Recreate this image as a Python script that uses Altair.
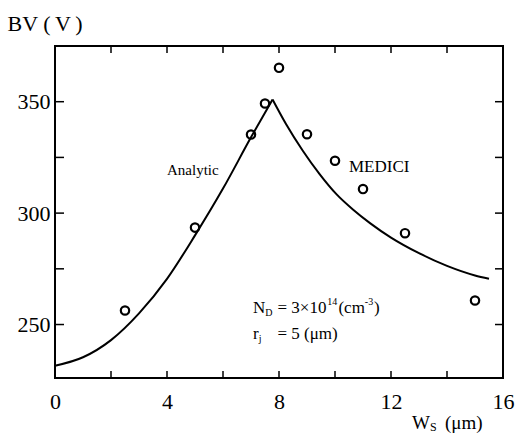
import altair as alt
import pandas as pd

# Analytic breakdown-voltage curve, split at the cusp into two branches
left_ws = [0.0, 1.0, 2.0, 3.0, 4.0, 5.0, 6.0, 7.0, 7.77]
left_bv = [231.5, 235.3, 243.0, 255.0, 270.5, 290.0, 311.0, 334.0, 351.0]
right_ws = [7.77, 8.25, 8.85, 9.45, 10.05, 10.65, 11.25, 12.0, 13.0, 14.0, 15.0, 15.5]
right_bv = [351.0, 340.0, 328.0, 317.5, 308.5, 301.5, 295.5, 289.0, 282.0, 276.3, 272.0, 270.5]

# MEDICI simulation points
medici_ws = [2.5, 5.0, 7.0, 7.5, 8.0, 9.0, 10.0, 11.0, 12.5, 15.0]
medici_bv = [256.3, 293.5, 335.3, 349.2, 365.2, 335.4, 323.5, 310.8, 291.0, 260.8]

x_tick_labels = [0, 4, 8, 12, 16]
x_minor = [2, 4, 6, 8, 10, 12, 14]
y_tick_labels = [250, 300, 350]
y_minor = [250, 275, 300, 325, 350]

W, H = 448, 332
X_DOM = [0, 16]
Y_DOM = [226, 375]
SERIF = "Liberation Serif"

curve = pd.DataFrame(
    {"ws": left_ws + right_ws,
     "bv": left_bv + right_bv,
     "branch": ["rise"] * len(left_ws) + ["fall"] * len(right_ws)}
)
pts = pd.DataFrame({"ws": medici_ws, "bv": medici_bv})

xs = alt.Scale(domain=X_DOM, nice=False, zero=False)
ys = alt.Scale(domain=Y_DOM, nice=False, zero=False)

x_axis = alt.Axis(values=x_tick_labels, title=None, grid=False, ticks=False, domain=False,
                  labelFont=SERIF, labelFontSize=22, labelColor="black",
                  labelBaseline="alphabetic", labelPadding=30, labelFlush=False)
y_axis = alt.Axis(values=y_tick_labels, title="BV (\u2009V\u2009)", grid=False, ticks=False,
                  domain=False, labelFont=SERIF, labelFontSize=22, labelColor="black",
                  labelPadding=5, titleFont=SERIF, titleFontSize=22,
                  titleFontWeight="normal", titleColor="black", titleAngle=0,
                  titleAlign="left", titleBaseline="alphabetic", titleX=-48, titleY=-16)

line = alt.Chart(curve).mark_line(color="black", strokeWidth=2, interpolate="monotone").encode(
    x=alt.X("ws:Q", scale=xs, axis=x_axis),
    y=alt.Y("bv:Q", scale=ys, axis=y_axis),
    detail="branch:N",
)

points = alt.Chart(pts).mark_point(shape="circle", filled=False, size=70, strokeWidth=2.2,
                                   color="black", opacity=1).encode(
    x=alt.X("ws:Q", scale=xs),
    y=alt.Y("bv:Q", scale=ys),
)

# Inward tick marks on all four sides of the frame
xt = pd.DataFrame({"ws": x_minor})
yt = pd.DataFrame({"bv": y_minor})
tick_style = dict(color="black", strokeWidth=1.5)
ticks_bottom = alt.Chart(xt).mark_rule(**tick_style).encode(
    x=alt.X("ws:Q", scale=xs), y=alt.value(H - 7), y2=alt.value(H))
ticks_top = alt.Chart(xt).mark_rule(**tick_style).encode(
    x=alt.X("ws:Q", scale=xs), y=alt.value(0), y2=alt.value(7))
ticks_left = alt.Chart(yt).mark_rule(**tick_style).encode(
    y=alt.Y("bv:Q", scale=ys), x=alt.value(0), x2=alt.value(9))
ticks_right = alt.Chart(yt).mark_rule(**tick_style).encode(
    y=alt.Y("bv:Q", scale=ys), x=alt.value(W - 8), x2=alt.value(W))


def label(text, ws, bv, size=17, dx=0, dy=0):
    return alt.Chart(pd.DataFrame({"ws": [ws], "bv": [bv], "t": [text]})).mark_text(
        font=SERIF, fontSize=size, align="left", baseline="alphabetic", color="black",
        dx=dx, dy=dy,
    ).encode(x=alt.X("ws:Q", scale=xs), y=alt.Y("bv:Q", scale=ys), text="t:N")


def px_label(text, px, py, size=19, dx=0, dy=0):
    return alt.Chart(pd.DataFrame({"t": [text]})).mark_text(
        font=SERIF, fontSize=size, align="left", baseline="alphabetic", color="black",
        dx=dx, dy=dy,
    ).encode(x=alt.value(px), y=alt.value(py), text="t:N")


nd_x, nd_y = 7.07, 255.2
rj_x, rj_y = 7.07, 243.7
annotations = [
    label("Analytic", 4.0, 317.1, size=15),
    label("MEDICI", 10.5, 318.6, size=17),
    # N_D = 3×10^14 (cm^-3)
    label("N", nd_x, nd_y),
    label("D", nd_x, nd_y, size=10, dx=12.3, dy=3),
    label("= 3\u00d710", nd_x, nd_y, dx=24.5),
    label("14", nd_x, nd_y, size=10, dx=74.2, dy=-8),
    label("(cm", nd_x, nd_y, dx=85.5),
    label("-3", nd_x, nd_y, size=10, dx=111.9, dy=-8),
    label(")", nd_x, nd_y, dx=121),
    # r_j = 5 (μm)
    label("r", rj_x, rj_y),
    label("j", rj_x, rj_y, size=10, dx=5.7, dy=3),
    label("= 5 (\u03bcm)", rj_x, rj_y, dx=24.5),
    # x-axis title W_S (μm)
    px_label("W", 357, 383),
    px_label("S", 357, 383, size=12, dx=18, dy=2),
    px_label("(\u03bcm)", 357, 383, dx=33),
]

chart = alt.layer(
    line, points, ticks_bottom, ticks_top, ticks_left, ticks_right, *annotations
).properties(
    width=W,
    height=H,
    padding={"left": 55, "top": 46, "right": 12, "bottom": 57},
    autosize=alt.AutoSizeParams(type="none"),
    background="white",
).configure_view(
    stroke="black", strokeWidth=2
)

chart.save("out.html", embed_options={"renderer": "svg", "actions": False})
